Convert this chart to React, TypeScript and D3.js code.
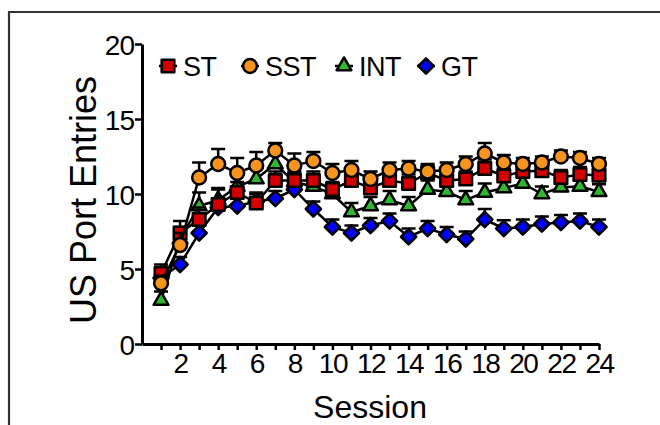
import React, { useEffect, useRef } from "react";
import * as d3 from "d3";

// session numbers 1..24
const sessions = [1, 2, 3, 4, 5, 6, 7, 8, 9, 10, 11, 12, 13, 14, 15, 16, 17, 18, 19, 20, 21, 22, 23, 24];
const xTickLabels = [2, 4, 6, 8, 10, 12, 14, 16, 18, 20, 22, 24];
const yTicks = [0, 5, 10, 15, 20];

// means
const stMean = [4.7, 7.4, 8.3, 9.3, 10.1, 9.4, 10.9, 10.9, 10.9, 10.3, 10.9, 10.4, 10.9, 10.7, 11.4, 10.9, 11.0, 11.7, 11.2, 11.5, 11.55, 11.1, 11.3, 11.25];
const sstMean = [4.05, 6.6, 11.1, 12.0, 11.4, 11.9, 12.9, 11.9, 12.2, 11.4, 11.6, 11.0, 11.6, 11.7, 11.5, 11.6, 12.0, 12.7, 12.1, 12.0, 12.1, 12.5, 12.4, 12.0];
const intMean = [2.9, 7.0, 9.2, 9.6, 10.5, 11.0, 12.0, 10.8, 10.5, 10.0, 8.8, 9.2, 9.6, 9.2, 10.3, 10.15, 9.6, 10.1, 10.4, 10.7, 10.0, 10.45, 10.5, 10.15];
const gtMean = [4.4, 5.3, 7.4, 9.1, 9.2, 9.5, 9.7, 10.3, 9.0, 7.8, 7.4, 7.9, 8.2, 7.15, 7.7, 7.3, 7.0, 8.3, 7.7, 7.8, 8.0, 8.1, 8.2, 7.8];

// standard errors (drawn upward only, as in the figure)
const stSem = [0.6, 0.8, 0.8, 1.0, 0.7, 0.6, 0.6, 0.6, 0.6, 0.5, 0.6, 0.5, 0.6, 0.6, 0.5, 0.6, 0.5, 0.6, 0.5, 0.5, 0.5, 0.5, 0.5, 0.5];
const sstSem = [0.5, 0.8, 1.0, 1.0, 1.0, 0.9, 0.5, 0.8, 0.6, 0.6, 0.6, 0.5, 0.5, 0.5, 0.5, 0.5, 0.5, 0.7, 0.5, 0.4, 0.4, 0.4, 0.4, 0.4];
const intSem = [0.6, 0.8, 0.9, 0.8, 0.8, 0.7, 0.7, 0.6, 0.7, 0.7, 0.6, 0.6, 0.6, 0.6, 0.6, 0.6, 0.6, 0.6, 0.6, 0.5, 0.5, 0.5, 0.5, 0.5];
const gtSem = [0.5, 0.5, 0.6, 0.6, 0.6, 0.6, 0.5, 0.5, 0.5, 0.5, 0.5, 0.5, 0.5, 0.55, 0.5, 0.5, 0.5, 0.7, 0.55, 0.5, 0.5, 0.5, 0.5, 0.5];

const seriesNames = ["ST", "SST", "INT", "GT"];
const seriesColors = ["#d40000", "#f7941d", "#2fb82f", "#0000ff"];

const FONT = "'Liberation Sans', Arial, Helvetica, sans-serif";

export default function App() {
  const ref = useRef<SVGSVGElement>(null);

  useEffect(() => {
    const svg = d3.select(ref.current);
    svg.selectAll("*").remove();

    const x = d3.scaleLinear().domain([0, 24]).range([142, 599]);
    const y = d3.scaleLinear().domain([0, 20]).range([344, 44]);

    // frame around the figure
    svg
      .append("path")
      .attr("d", "M9,425V12H660")
      .attr("fill", "none")
      .attr("stroke", "#333")
      .attr("stroke-width", 2.2);

    const series = [
      { name: "ST", mean: stMean, sem: stSem, color: seriesColors[0], shape: "square" },
      { name: "SST", mean: sstMean, sem: sstSem, color: seriesColors[1], shape: "circle" },
      { name: "INT", mean: intMean, sem: intSem, color: seriesColors[2], shape: "triangle" },
      { name: "GT", mean: gtMean, sem: gtSem, color: seriesColors[3], shape: "diamond" },
    ];

    const symbolPath = (shape: string) => {
      if (shape === "square") return d3.symbol(d3.symbolSquare, 160)();
      if (shape === "circle") return d3.symbol(d3.symbolCircle, 150)();
      if (shape === "triangle") return d3.symbol(d3.symbolTriangle, 95)();
      return d3.symbol(d3.symbolSquare, 115)();
    };
    const symbolRot = (shape: string) => (shape === "diamond" ? " rotate(45)" : "");

    // axes
    const yAxis = d3
      .axisLeft(y)
      .tickValues(yTicks)
      .tickSize(7)
      .tickSizeOuter(0)
      .tickPadding(1);
    const gy = svg.append("g").attr("transform", "translate(142,0)").call(yAxis);
    gy.select(".domain").attr("stroke", "#000").attr("stroke-width", 3);
    gy.selectAll(".tick line").attr("stroke", "#000").attr("stroke-width", 2.5);
    gy.selectAll(".tick text")
      .attr("font-family", FONT)
      .attr("font-size", 28)
      .attr("fill", "#000")
      .attr("letter-spacing", -1)
      .attr("dy", "0.36em");

    const xAxis = d3
      .axisBottom(x)
      .tickValues(sessions)
      .tickSize(6)
      .tickSizeOuter(0)
      .tickPadding(3)
      .tickFormat((d) => (xTickLabels.includes(d as number) ? String(d) : ""));
    const gx = svg.append("g").attr("transform", "translate(0,344)").call(xAxis);
    gx.select(".domain").attr("stroke", "#000").attr("stroke-width", 3);
    gx.selectAll(".tick line").attr("stroke", "#000").attr("stroke-width", 2.5);
    gx.selectAll(".tick text")
      .attr("font-family", FONT)
      .attr("font-size", 28)
      .attr("fill", "#000")
      .attr("letter-spacing", -1.5);

    // axis titles
    svg
      .append("text")
      .attr("transform", "translate(96,200) rotate(-90)")
      .attr("text-anchor", "middle")
      .attr("font-family", FONT)
      .attr("font-size", 36)
      .text("US Port Entries");

    svg
      .append("text")
      .attr("x", 370)
      .attr("y", 418)
      .attr("text-anchor", "middle")
      .attr("font-family", FONT)
      .attr("font-size", 32)
      .text("Session");

    const line = d3
      .line<number>()
      .x((d, i) => x(sessions[i]))
      .y((d) => y(d));

    // draw order: GT, INT, ST, SST (circles end up on top)
    const drawOrder = [3, 2, 0, 1];
    drawOrder.forEach((k) => {
      const s = series[k];
      const g = svg.append("g");

      g.append("path")
        .attr("d", line(s.mean))
        .attr("fill", "none")
        .attr("stroke", "#000")
        .attr("stroke-width", 2.5);

      const eb = g
        .selectAll(".eb")
        .data(s.mean)
        .enter()
        .append("g")
        .attr("stroke", "#000")
        .attr("stroke-width", 2.5);
      eb.append("line")
        .attr("x1", (d, i) => x(sessions[i]))
        .attr("x2", (d, i) => x(sessions[i]))
        .attr("y1", (d) => y(d))
        .attr("y2", (d, i) => y(d + s.sem[i]));
      eb.append("line")
        .attr("x1", (d, i) => x(sessions[i]) - 7)
        .attr("x2", (d, i) => x(sessions[i]) + 7)
        .attr("y1", (d, i) => y(d + s.sem[i]))
        .attr("y2", (d, i) => y(d + s.sem[i]));

      g.selectAll(".pt")
        .data(s.mean)
        .enter()
        .append("path")
        .attr("d", symbolPath(s.shape))
        .attr(
          "transform",
          (d, i) => `translate(${x(sessions[i])},${y(d)})${symbolRot(s.shape)}`
        )
        .attr("fill", s.color)
        .attr("stroke", "#000")
        .attr("stroke-width", 2.5)
        .attr("stroke-linejoin", "round");
    });

    // legend
    const legendX = [168, 250, 344, 426];
    const legend = svg
      .selectAll(".legend")
      .data(series)
      .enter()
      .append("g")
      .attr("transform", (d, i) => `translate(${legendX[i]},66)`);
    legend
      .append("line")
      .attr("x1", -9)
      .attr("x2", 9)
      .attr("stroke", "#000")
      .attr("stroke-width", 2.5);
    legend
      .append("path")
      .attr("d", (d) => symbolPath(d.shape))
      .attr("transform", (d) => (d.shape === "diamond" ? "rotate(45)" : ""))
      .attr("fill", (d) => d.color)
      .attr("stroke", "#000")
      .attr("stroke-width", 2.5)
      .attr("stroke-linejoin", "round");
    legend
      .append("text")
      .attr("x", 15)
      .attr("dy", "0.36em")
      .attr("font-family", FONT)
      .attr("font-size", 27)
      .attr("letter-spacing", -0.5)
      .text((d, i) => seriesNames[i]);
  }, []);

  return (
    <svg
      ref={ref}
      width={660}
      height={425}
      style={{ position: "absolute", left: 0, top: 0, background: "#fff" }}
    />
  );
}
